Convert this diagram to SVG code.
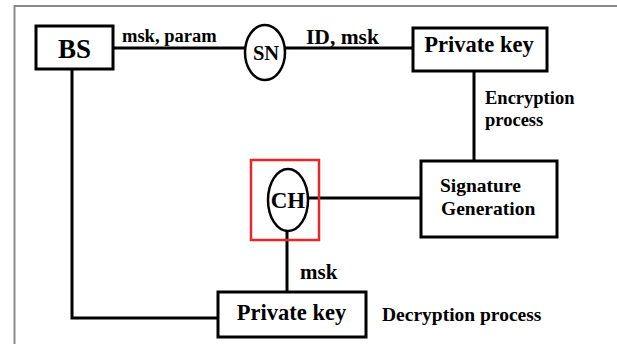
<svg xmlns="http://www.w3.org/2000/svg" width="617" height="344" viewBox="0 0 617 344">
  <style>
    .box { fill: #fff; stroke: #000; stroke-width: 3; }
    .oval { fill: #fff; stroke: #000; stroke-width: 2.5; }
    .wire { fill: none; stroke: #000; stroke-width: 3; }
    .t { font-family: "Liberation Serif", "Times New Roman", serif; font-weight: bold; fill: #000; }
    .frame { fill: none; stroke: #8a8a8a; stroke-width: 2; }
  </style>
  <rect width="617" height="344" fill="#fff"/>
  <!-- outer frame (top and left edges only) -->
  <path class="frame" d="M14.5,344 V6 H617"/>

  <g id="connectors">
    <path class="wire" d="M113,48 H246"/>
    <path class="wire" d="M285,48 H413"/>
    <path class="wire" d="M474,72 V161"/>
    <path class="wire" d="M308,198 H421"/>
    <path class="wire" d="M287,231 V292"/>
    <path class="wire" d="M72,69 V318 H218"/>
  </g>

  <g id="edge-labels">
    <text class="t" x="122" y="42" font-size="18.5">msk, param</text>
    <text class="t" x="306" y="44" font-size="21.5">ID, msk</text>
    <text class="t" x="485" y="104" font-size="18.5">Encryption</text>
    <text class="t" x="485" y="126" font-size="18.5">process</text>
    <text class="t" x="300" y="279" font-size="21">msk</text>
    <text class="t" x="382" y="321" font-size="19.5">Decryption process</text>
  </g>

  <g id="bs">
    <rect class="box" x="36" y="26" width="77" height="43"/>
    <text class="t" x="74.5" y="58" font-size="27" text-anchor="middle">BS</text>
  </g>

  <g id="sn">
    <ellipse class="oval" cx="265" cy="52.5" rx="20" ry="27.5"/>
    <text class="t" x="266" y="60" font-size="20.5" text-anchor="middle">SN</text>
  </g>

  <g id="private-key-top">
    <rect class="box" x="413" y="28" width="134" height="43"/>
    <text class="t" x="479" y="52" font-size="22.5" text-anchor="middle">Private key</text>
  </g>

  <g id="signature-generation">
    <rect class="box" x="421" y="161" width="136" height="76"/>
    <text class="t" x="440" y="192" font-size="19.5">Signature</text>
    <text class="t" x="441" y="215" font-size="19.5">Generation</text>
  </g>

  <g id="ch">
    <rect x="251" y="160" width="68" height="80" fill="none" stroke="#e8262b" stroke-width="2.5"/>
    <ellipse class="oval" cx="288" cy="200" rx="20" ry="31"/>
    <text class="t" x="288" y="208" font-size="23" text-anchor="middle">CH</text>
  </g>

  <g id="private-key-bottom">
    <rect class="box" x="218" y="292" width="148" height="45"/>
    <text class="t" x="291.5" y="320" font-size="22.5" text-anchor="middle">Private key</text>
  </g>
</svg>
